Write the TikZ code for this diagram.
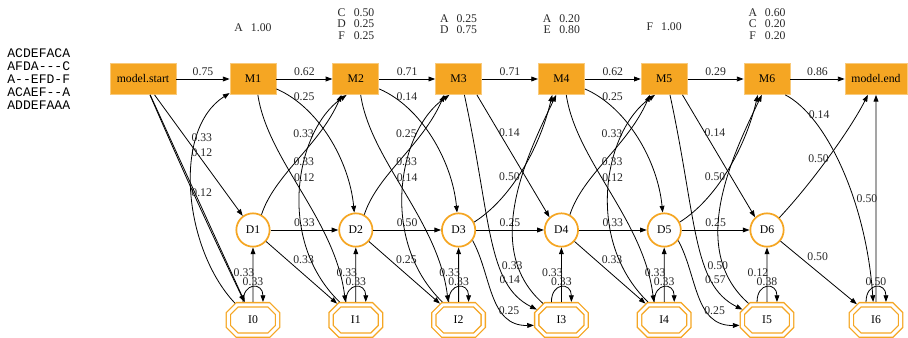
\documentclass[tikz,border=0pt]{standalone}
\usepackage{fontspec}
\setmainfont{Liberation Serif}
\setmonofont{Liberation Mono}[Ligatures=TeXOff]
\usetikzlibrary{arrows.meta, shapes.misc, positioning}
\definecolor{hmmorange}{RGB}{245,166,35}

\begin{document}
\begin{tikzpicture}[x=0.75pt, y=0.75pt, node distance=77.1pt, line width=0.6pt,
                    font=\fontsize{8.8}{8.5}\selectfont,
                    >={Triangle[length=5pt, width=3.6pt]},
                    every edge/.append style={->},
                    match/.style= {rectangle,
                      fill=hmmorange,
                      draw=hmmorange!60!white,
                      inner sep=0pt,
                      minimum width=34.5pt,
                      minimum height=23.25pt},
                    delete/.style= {circle,
                      fill=white,
                      draw=hmmorange,
                      line width=1.3pt,
                      inner sep=0pt,
                      minimum size=25pt},
                    insert/.style= {chamfered rectangle,
                      chamfered rectangle xsep=6.75pt,
                      chamfered rectangle ysep=4.5pt,
                      draw=hmmorange,
                      line width=1pt,
                      double=white,
                      double distance=2.2pt,
                      inner sep=0pt,
                      outer sep=2.1pt,
                      minimum width=37pt,
                      minimum height=22.8pt},
                    prob/.style= {inner sep=0pt, text=black!85},
                    emis/.style= {inner sep=0pt, text=black!85},
                    msa/.style= {inner sep=0pt, anchor=west, align=left,
                      font=\ttfamily\fontsize{9.8}{9.75}\selectfont}]

  \useasboundingbox (0,0) rectangle (908,-338);

  % alignment
  \node[msa] (aln) at (7,-79) {ACDEFACA\\AFDA---C\\A--EFD-F\\ACAEF--A\\ADDEFAAA};

  % match states
  \node[match] (M1) at (253,-79) {M1};
  \node[match] (M2) [right of=M1] {M2};
  \node[match] (M3) [right of=M2] {M3};
  \node[match] (M4) [right of=M3] {M4};
  \node[match] (M5) [right of=M4] {M5};
  \node[match] (M6) [right of=M5] {M6};
  \node[match, minimum width=49.5pt] (S) [left of=M1, node distance=82.5pt] {model.start};
  \node[match, minimum width=46.5pt] (E) [right of=M6, node distance=81.75pt] {model.end};

  % emissions
  \node[emis] (e1) [above of=M1, node distance=37.5pt] {\begin{tabular}{@{}c@{\hspace{6pt}}l@{}}A & 1.00\end{tabular}};
  \node[emis] (e2) [above of=M2, node distance=40.1pt] {\begin{tabular}{@{}c@{\hspace{6pt}}l@{}}C & 0.50\\D & 0.25\\F & 0.25\end{tabular}};
  \node[emis] (e3) [above of=M3, node distance=40.1pt] {\begin{tabular}{@{}c@{\hspace{6pt}}l@{}}A & 0.25\\D & 0.75\end{tabular}};
  \node[emis] (e4) [above of=M4, node distance=40.1pt] {\begin{tabular}{@{}c@{\hspace{6pt}}l@{}}A & 0.20\\E & 0.80\end{tabular}};
  \node[emis] (e5) [above of=M5, node distance=37.9pt] {\begin{tabular}{@{}c@{\hspace{6pt}}l@{}}F & 1.00\end{tabular}};
  \node[emis] (e6) [above of=M6, node distance=40.1pt] {\begin{tabular}{@{}c@{\hspace{6pt}}l@{}}A & 0.60\\C & 0.20\\F & 0.20\end{tabular}};

  % delete states
  \node[delete] (D1) [below of=M1, node distance=113.25pt] {D1};
  \node[delete] (D2) [below of=M2, node distance=113.25pt] {D2};
  \node[delete] (D3) [below of=M3, node distance=113.25pt] {D3};
  \node[delete] (D4) [below of=M4, node distance=113.25pt] {D4};
  \node[delete] (D5) [below of=M5, node distance=113.25pt] {D5};
  \node[delete] (D6) [below of=M6, node distance=113.25pt] {D6};

  % insert states
  \node[insert] (I0) [below of=D1, node distance=67.5pt] {I0};
  \node[insert] (I1) [below of=D2, node distance=67.5pt] {I1};
  \node[insert] (I2) [below of=D3, node distance=67.5pt] {I2};
  \node[insert] (I3) [below of=D4, node distance=67.5pt] {I3};
  \node[insert] (I4) [below of=D5, node distance=67.5pt] {I4};
  \node[insert] (I5) [below of=D6, node distance=67.5pt] {I5};
  \node[insert] (I6) [below of=E, node distance=180.75pt] {I6};

  % straight transitions
  \path
    (S) edge node[prob, above=2.25pt] {0.75} (M1)
        edge node[prob, pos=.48, shift={(5,0)}] {0.12} (D1)
        edge node[prob, pos=.47, shift={(7,0)}] {0.12} (I0)
        edge[bend right=1] (I0)
    (M1) edge node[prob, above=2.25pt] {0.62} (M2)
    (M2) edge node[prob, above=2.25pt] {0.71} (M3)
    (M3) edge node[prob, above=2.25pt] {0.71} (M4)
    (M4) edge node[prob, above=2.25pt] {0.62} (M5)
    (M5) edge node[prob, above=2.25pt] {0.29} (M6)
    (M6) edge node[prob, above=2.25pt] {0.86} (E)
    (D1) edge node[prob, above=2.25pt] {0.33} (D2)
         edge node[prob, midway, shift={(2,13)}] {0.33} (I1)
    (D2) edge node[prob, above=2.25pt] {0.50} (D3)
         edge node[prob, midway, shift={(2,13)}] {0.25} (I2)
    (D3) edge node[prob, above=2.25pt] {0.25} (D4)
    (D4) edge node[prob, above=2.25pt] {0.33} (D5)
         edge node[prob, midway, shift={(2,13)}] {0.33} (I4)
    (D5) edge node[prob, above=2.25pt] {0.25} (D6)
    (D6) edge node[prob, midway, shift={(-1,16)}] {0.50} (I6)
    (M3.-41) edge node[prob, pos=.31, shift={(10,0)}] {0.14} (D4.133)
    (M5.-41) edge node[prob, pos=.31, shift={(10,0)}] {0.14} (D6.133)
    (I0) edge node[prob, pos=.53, shift={(-9,0)}] {0.33} (D1)
    (I1) edge node[prob, pos=.53, shift={(-9,0)}] {0.33} (D2)
    (I2) edge node[prob, pos=.53, shift={(-9,0)}] {0.33} (D3)
    (I3) edge node[prob, pos=.53, shift={(-9,0)}] {0.33} (D4)
    (I4) edge node[prob, pos=.53, shift={(-9,0)}] {0.33} (D5)
    (I5) edge node[prob, pos=.53, shift={(-9,0)}] {0.12} (D6)
    (I6) edge node[prob, pos=.5, shift={(-9,0)}] {0.50} (E);

  % self loops
  \path
    (I0.119) edge[out=90, in=90, distance=15pt] node[prob, above=1pt] {0.33} (I0.61)
    (I1.119) edge[out=90, in=90, distance=15pt] node[prob, above=1pt] {0.33} (I1.61)
    (I2.119) edge[out=90, in=90, distance=15pt] node[prob, above=1pt] {0.33} (I2.61)
    (I3.119) edge[out=90, in=90, distance=15pt] node[prob, above=1pt] {0.33} (I3.61)
    (I4.119) edge[out=90, in=90, distance=15pt] node[prob, above=1pt] {0.33} (I4.61)
    (I5.119) edge[out=90, in=90, distance=15pt] node[prob, above=1pt] {0.38} (I5.61)
    (I6.119) edge[out=90, in=90, distance=15pt] node[prob, above=1pt] {0.50} (I6.61);

  % curved transitions
  \draw[->] (I0.137) .. controls +(-51,54) and +(-58,-37) .. (M1.211) node[prob, pos=.75, shift={(3,-4)}] {0.33};

  \draw[->] (M1.-23.5) .. controls +(42,-18) and +(-5,52) .. (D2.95.5) node[prob, pos=.2, shift={(4,7)}] {0.25};
  \draw[->] (M1.-73) .. controls +(10,-66) and +(-10,82) .. (I1.120) node[prob, pos=.45, shift={(8.5,5)}] {0.12};
  \draw[->] (D1.61) .. controls +(13,40) and +(-22,-50.5) .. (M2.228) node[prob, pos=.6, shift={(-4,14)}] {0.33};
  \draw[->] (I1.132) .. controls +(-64,62) and +(-51,-35.5) .. (M2.240) node[prob, pos=.62, shift={(-1,-1)}] {0.33};

  \draw[->] (M2.-23.5) .. controls +(42,-18) and +(-5,52) .. (D3.95.5) node[prob, pos=.2, shift={(4,7)}] {0.14};
  \draw[->] (M2.-73) .. controls +(10,-66) and +(-10,82) .. (I2.120) node[prob, pos=.45, shift={(8.5,5)}] {0.14};
  \draw[->] (D2.61) .. controls +(13,40) and +(-22,-50.5) .. (M3.228) node[prob, pos=.6, shift={(-4,14)}] {0.25};
  \draw[->] (I2.132) .. controls +(-64,62) and +(-51,-35.5) .. (M3.240) node[prob, pos=.62, shift={(-1,-1)}] {0.33};

  \draw[->] (M3.-70) .. controls +(27,-125.5) and +(-50,25) .. (I3.157) node[prob, pos=.72, shift={(4,-1)}] {0.14};
  \draw[->] (D3.27) .. controls +(35,22) and +(-13,-55.5) .. (M4.240) node[prob, pos=.5, shift={(-12,-6)}] {0.50};
  \draw[->] (D3.-37) .. controls +(19,-34.5) and +(-45,-1) .. (I3.191) node[prob, pos=.75, shift={(1,7)}] {0.25};
  \draw[->] (I3.138) .. controls +(-60,53) and +(-32,-65.5) .. (M4.252) node[prob, pos=.25, shift={(-3,-8)}] {0.33};

  \draw[->] (M4.-23.5) .. controls +(42,-18) and +(-5,52) .. (D5.95.5) node[prob, pos=.2, shift={(4,7)}] {0.25};
  \draw[->] (M4.-73) .. controls +(10,-66) and +(-10,82) .. (I4.120) node[prob, pos=.45, shift={(8.5,5)}] {0.12};
  \draw[->] (D4.61) .. controls +(13,40) and +(-22,-50.5) .. (M5.228) node[prob, pos=.6, shift={(-4,14)}] {0.33};
  \draw[->] (I4.132) .. controls +(-64,62) and +(-51,-35.5) .. (M5.240) node[prob, pos=.62, shift={(-1,-1)}] {0.33};

  \draw[->] (M5.-70) .. controls +(27,-125.5) and +(-50,25) .. (I5.157) node[prob, pos=.72, shift={(4,-1)}] {0.57};
  \draw[->] (D5.27) .. controls +(35,22) and +(-13,-55.5) .. (M6.240) node[prob, pos=.5, shift={(-12,-6)}] {0.50};
  \draw[->] (D5.-37) .. controls +(19,-34.5) and +(-45,-1) .. (I5.191) node[prob, pos=.75, shift={(1,7)}] {0.25};
  \draw[->] (I5.138) .. controls +(-60,53) and +(-32,-65.5) .. (M6.252) node[prob, pos=.25, shift={(-3,-8)}] {0.50};

  \draw[->] (M6.-41) .. controls +(40,-20.5) and +(-7,102) .. (I6.99) node[prob, pos=.2, shift={(10,0)}] {0.14};
  \draw[->] (D6.45) .. controls +(31,33) and +(-18,-35.5) .. (E.243) node[prob, pos=.5, shift={(-10,-1)}] {0.50};
\end{tikzpicture}
\end{document}
